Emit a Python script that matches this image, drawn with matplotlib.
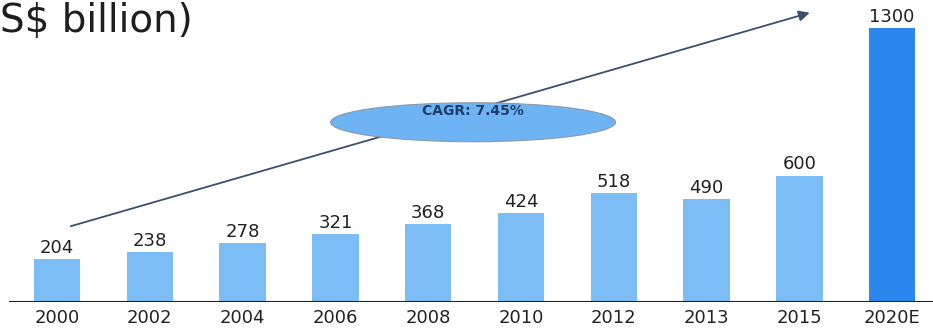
import matplotlib.pyplot as plt
from matplotlib.patches import Ellipse

years = ['2000', '2002', '2004', '2006', '2008', '2010', '2012', '2013', '2015', '2020E']
values = [204, 238, 278, 321, 368, 424, 518, 490, 600, 1300]
estimated = [False] * 9 + [True]

LIGHT = '#7dbdf6'
DARK = '#2b86ee'


def main():
    fig = plt.figure(figsize=(9.33, 3.33), dpi=100)
    ax = fig.add_axes([0, 0.0931, 1, 0.9069])

    x = list(range(len(years)))
    colors = [DARK if e else LIGHT for e in estimated]
    ax.bar(x, values, width=0.5, color=colors, zorder=2)

    for xi, v in zip(x, values):
        ax.annotate(str(v), (xi, v), xytext=(0, 1.5), textcoords='offset points',
                    ha='center', va='bottom', fontsize=13, color='#222222',
                    family='DejaVu Sans')

    ax.set_xlim(-0.614, 9.44)
    ax.set_ylim(0, 1433)
    for s in ax.spines.values():
        s.set_visible(False)
    ax.axhline(0, xmin=10 / 933, color='#222222', linewidth=1.5, zorder=3)

    ax.set_yticks([])
    ax.set_xticks(x)
    ax.set_xticklabels(years, fontsize=13, color='#222222', family='DejaVu Sans')
    ax.tick_params(axis='x', length=0, pad=5)

    # growth arrow behind the CAGR bubble
    ax.annotate('', xy=(8.14, 1376), xytext=(0.12, 356),
                arrowprops=dict(arrowstyle='-|>', color='#3d4f70', lw=1.3,
                                mutation_scale=16), zorder=1)

    ell = Ellipse((4.484, 853), width=3.07, height=185, facecolor='#6eb3f3',
                  edgecolor='#8c9aa8', linewidth=0.8, zorder=4)
    ax.add_patch(ell)
    ax.text(4.484, 905, 'CAGR: 7.45%', ha='center', va='center', fontsize=10,
            fontweight='bold', color='#1f3d6b', family='DejaVu Sans', zorder=5)

    fig.text(0.0, 0.905, 'S$ billion)', fontsize=28, color='#1e1e1e',
             family='DejaVu Sans', ha='left', va='baseline')

    fig.savefig('out.png', dpi=100)


if __name__ == '__main__':
    main()
